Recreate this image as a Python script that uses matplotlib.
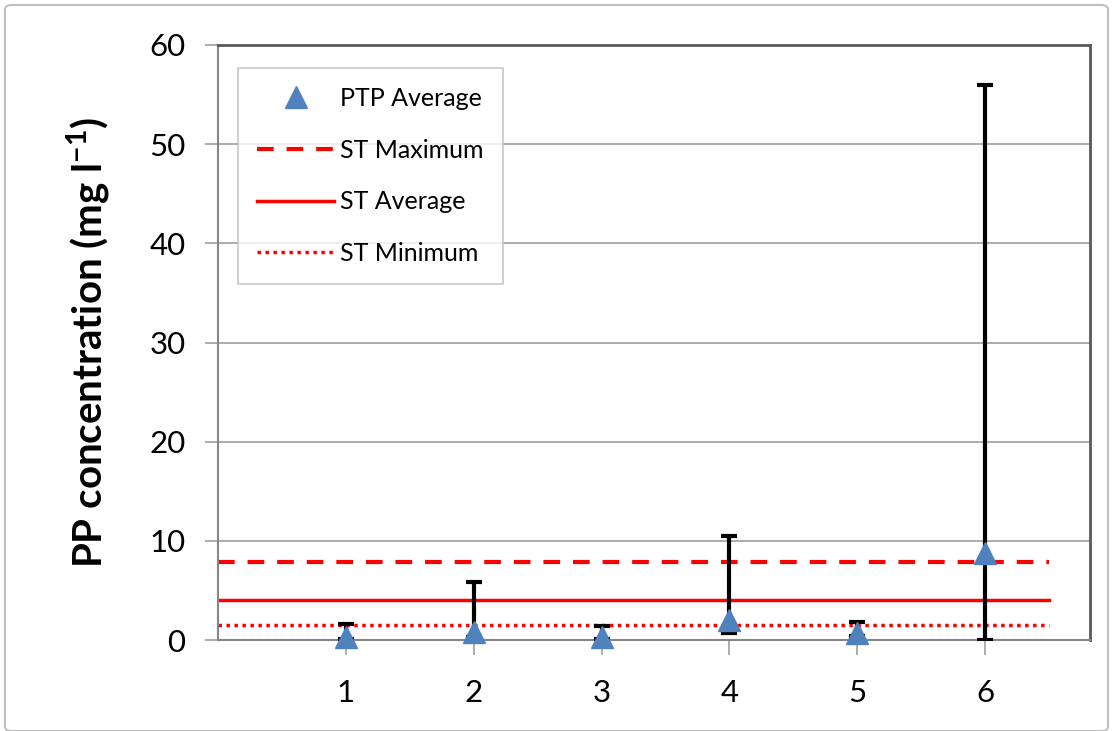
import matplotlib
matplotlib.use("Agg")
import matplotlib.pyplot as plt
from matplotlib.lines import Line2D
from matplotlib.patches import FancyBboxPatch
import numpy as np

# Data
sites = [1, 2, 3, 4, 5, 6]
ptp_avg = [0.3, 0.8, 0.3, 2.0, 0.7, 8.8]
ptp_max = [1.6, 5.8, 1.4, 10.5, 1.8, 56.0]
ptp_min = [0.1, 0.3, 0.1, 0.7, 0.4, 0.0]
st_max = 7.9
st_avg = 4.0
st_min = 1.55
line_x = [0, 6.5]
y_ticks = [0, 10, 20, 30, 40, 50, 60]

plt.rcParams['font.family'] = ['Lato', 'DejaVu Sans']

DASH = (0, (4, 3.1))
DOT = (0, (1, 1.3))

fig = plt.figure(figsize=(11.13, 7.31), dpi=100)
fig.patch.set_facecolor('white')
# outer frame
frame = FancyBboxPatch((5/1113, 0.0), (1103)/1113, (726)/731,
                       boxstyle="round,pad=0,rounding_size=0.006",
                       transform=fig.transFigure, facecolor='none',
                       edgecolor='#BFBFBF', linewidth=1.5, zorder=-10)
fig.patches.append(frame)

ax = fig.add_axes([218/1113, 1-640/731, (1090-218)/1113, (640-45)/731])
ax.set_zorder(5)
ax.patch.set_alpha(0)
ax.set_xlim(0, 6.82)
ax.set_ylim(0, 60)

ax.grid(axis='y', color='#A6A6A6', linewidth=1.3, zorder=0)
ax.set_axisbelow(True)

# ST lines
ax.plot(line_x, [st_max, st_max], color='#FF0000', lw=3, ls=DASH, zorder=2)
ax.plot(line_x, [st_avg, st_avg], color='#FF0000', lw=2.5, ls='-', zorder=2)
ax.plot(line_x, [st_min, st_min], color='#FF0000', lw=2.5, ls=DOT, zorder=2)

# Error bars
avg = np.array(ptp_avg)
lower = avg - np.array(ptp_min)
upper = np.array(ptp_max) - avg
ax.errorbar(sites, avg, yerr=[lower, upper], fmt='none', ecolor='black',
            elinewidth=3, capsize=6, capthick=3, zorder=3)
ax.plot(sites, avg, ls='none', marker='^', markersize=16, color='#4F81BD',
        markeredgecolor='#4F81BD', zorder=4, clip_on=False)

ax.set_xticks(sites)
ax.set_xticklabels([str(s) for s in sites])
ax.set_yticks(y_ticks)
ax.tick_params(axis='both', labelsize=22.5, colors='#000000')
ax.tick_params(axis='x', direction='out', length=11, width=1.3, color='#A6A6A6', pad=17)
ax.tick_params(axis='y', direction='out', length=9.5, width=1.3, color='#A6A6A6', pad=14)

for s in ['left', 'bottom']:
    ax.spines[s].set_color('#868686')
    ax.spines[s].set_linewidth(1.5)
for s in ['top', 'right']:
    ax.spines[s].set_color('#595959')
    ax.spines[s].set_linewidth(2)

ax.set_ylabel('PP concentration (mg l$^{\\mathregular{-1}}$)', fontsize=29,
              fontweight='bold', labelpad=26)

handles = [
    Line2D([], [], ls='none', marker='^', markersize=16, color='#4F81BD'),
    Line2D([], [], color='#FF0000', lw=3, ls=DASH),
    Line2D([], [], color='#FF0000', lw=2.5, ls='-'),
    Line2D([], [], color='#FF0000', lw=2.5, ls=DOT),
]
labels = ['PTP Average', 'ST Maximum', 'ST Average', 'ST Minimum']
leg = ax.legend(handles, labels, loc='upper left', bbox_to_anchor=(20/872, 1-23/595),
                fontsize=18, frameon=True, fancybox=False, edgecolor='#BFBFBF',
                handlelength=3.1, handletextpad=0.25, labelspacing=1.15,
                borderpad=0.75, borderaxespad=0)
leg.get_frame().set_linewidth(1.3)

fig.savefig('out.png', dpi=100, facecolor='white')
